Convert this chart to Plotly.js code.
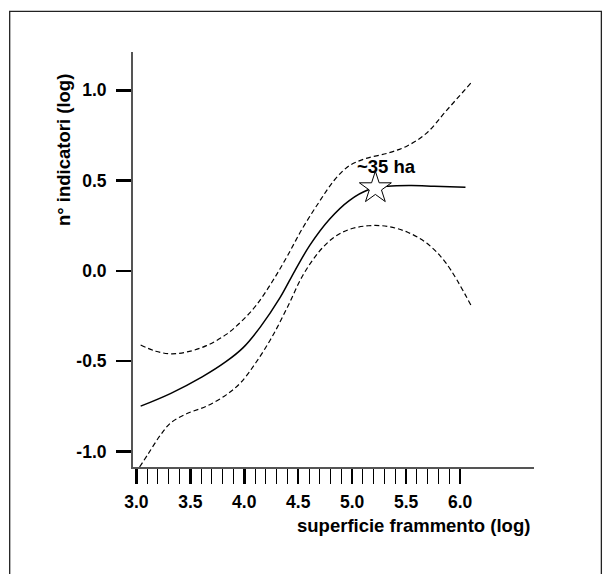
<!DOCTYPE html>
<html>
<head>
<meta charset="utf-8">
<script src="https://cdn.plot.ly/plotly-3.0.1.min.js"></script>
<style>
html,body{margin:0;padding:0;background:#fff;}
#chart{width:609px;height:574px;}
</style>
</head>
<body>
<div id="chart"></div>
<script>
// Fitted curve (solid)
const fitX = [3.04, 3.32, 3.61, 3.83, 3.99, 4.15, 4.33, 4.47, 4.61, 4.79, 4.97, 5.15, 5.33, 5.55, 5.76, 6.05];
const fitY = [-0.749, -0.678, -0.587, -0.503, -0.425, -0.310, -0.150, 0.002, 0.144, 0.286, 0.388, 0.449, 0.469, 0.473, 0.469, 0.463];
// Upper confidence band (dashed)
const upX = [3.04, 3.18, 3.32, 3.47, 3.65, 3.83, 3.97, 4.11, 4.26, 4.40, 4.54, 4.69, 4.83, 4.97, 5.12, 5.33, 5.51, 5.69, 5.87, 6.10];
const upY = [-0.41, -0.445, -0.459, -0.449, -0.414, -0.353, -0.282, -0.191, -0.059, 0.083, 0.236, 0.378, 0.499, 0.581, 0.621, 0.652, 0.692, 0.763, 0.885, 1.040];
// Lower confidence band (dashed)
const loX = [3.03, 3.11, 3.22, 3.32, 3.47, 3.65, 3.83, 3.97, 4.11, 4.26, 4.40, 4.54, 4.69, 4.83, 4.97, 5.15, 5.33, 5.51, 5.69, 5.87, 6.11];
const loY = [-1.086, -1.013, -0.912, -0.841, -0.79, -0.749, -0.688, -0.617, -0.506, -0.363, -0.201, -0.028, 0.104, 0.185, 0.229, 0.25, 0.246, 0.215, 0.154, 0.043, -0.201];
// Marked threshold
const starX = [5.215];
const starY = [0.459];
const starLabel = "~35 ha";
// Ticks
const xTickVals = [3.0, 3.5, 4.0, 4.5, 5.0, 5.5, 6.0];
const xTickText = ["3.0", "3.5", "4.0", "4.5", "5.0", "5.5", "6.0"];
const xMinorVals = [3.1,3.2,3.3,3.4,3.6,3.7,3.8,3.9,4.1,4.2,4.3,4.4,4.6,4.7,4.8,4.9,5.1,5.2,5.3,5.4,5.6,5.7,5.8,5.9];
const yTickVals = [-1.0, -0.5, 0.0, 0.5, 1.0];
const yTickText = ["-1.0", "-0.5", "0.0", "0.5", "1.0"];
const xTitle = "superficie frammento (log)";
const yTitle = "n° indicatori (log)";

const FONT = "Liberation Sans, Arial, sans-serif";

const traces = [
  {x: upX, y: upY, mode: "lines", line: {color: "#000", width: 1.2, dash: "5px,3px", shape: "spline", smoothing: 1}, hoverinfo: "skip"},
  {x: loX, y: loY, mode: "lines", line: {color: "#000", width: 1.2, dash: "5px,3px", shape: "spline", smoothing: 1}, hoverinfo: "skip"},
  {x: fitX, y: fitY, mode: "lines", line: {color: "#000", width: 1.5, shape: "spline", smoothing: 1}, hoverinfo: "skip"},
  {x: starX, y: starY, mode: "markers", marker: {symbol: "star", size: 24, color: "#fff", line: {color: "#000", width: 1}}, hoverinfo: "skip"}
];

const layout = {
  width: 609, height: 574,
  margin: {l: 133, r: 75, t: 52, b: 107},
  paper_bgcolor: "#fff", plot_bgcolor: "#fff",
  showlegend: false,
  font: {family: FONT, color: "#000"},
  xaxis: {
    range: [2.969, 6.685],
    showgrid: false, zeroline: false,
    showline: true, linecolor: "#555", linewidth: 2,
    ticks: "outside", ticklen: 15, tickwidth: 2.5, tickcolor: "#000",
    tickmode: "array", tickvals: xTickVals, ticktext: xTickText,
    tickfont: {family: FONT, size: 17.5, color: "#000", weight: "bold"},
    ticklabelstandoff: 3,
    minor: {tickmode: "array", tickvals: xMinorVals, ticks: "outside", ticklen: 15, tickwidth: 1, tickcolor: "#000", showgrid: false}
  },
  yaxis: {
    range: [-1.086, 1.212],
    showgrid: false, zeroline: false,
    showline: true, linecolor: "#555", linewidth: 2,
    ticks: "outside", ticklen: 15, tickwidth: 2.5, tickcolor: "#000",
    tickmode: "array", tickvals: yTickVals, ticktext: yTickText,
    tickfont: {family: FONT, size: 17.5, color: "#000", weight: "bold"},
    ticklabelstandoff: 6
  },
  shapes: [
    {type: "rect", xref: "paper", yref: "paper", x0: -0.3075, x1: 1.168, y0: -0.35, y1: 1.098,
     line: {color: "#222", width: 1.3}, fillcolor: "rgba(0,0,0,0)", layer: "below"}
  ],
  annotations: [
    {x: starX[0] + 0.1, y: starY[0], xref: "x", yref: "y", text: "<b>" + starLabel + "</b>", showarrow: false,
     yshift: 21, font: {family: FONT, size: 18.5, color: "#000"}},
    {xref: "paper", yref: "paper", x: 0.995, y: -0.14, xanchor: "right", yanchor: "middle",
     text: "<b>" + xTitle + "</b>", showarrow: false, font: {family: FONT, size: 18.5, color: "#000"}},
    {xref: "paper", yref: "paper", x: -0.173, y: 0.763, xanchor: "center", yanchor: "middle", textangle: -90,
     text: "<b>" + yTitle + "</b>", showarrow: false, font: {family: FONT, size: 18.5, color: "#000"}}
  ]
};

Plotly.newPlot("chart", traces, layout, {displayModeBar: false, staticPlot: true});
</script>
</body>
</html>
